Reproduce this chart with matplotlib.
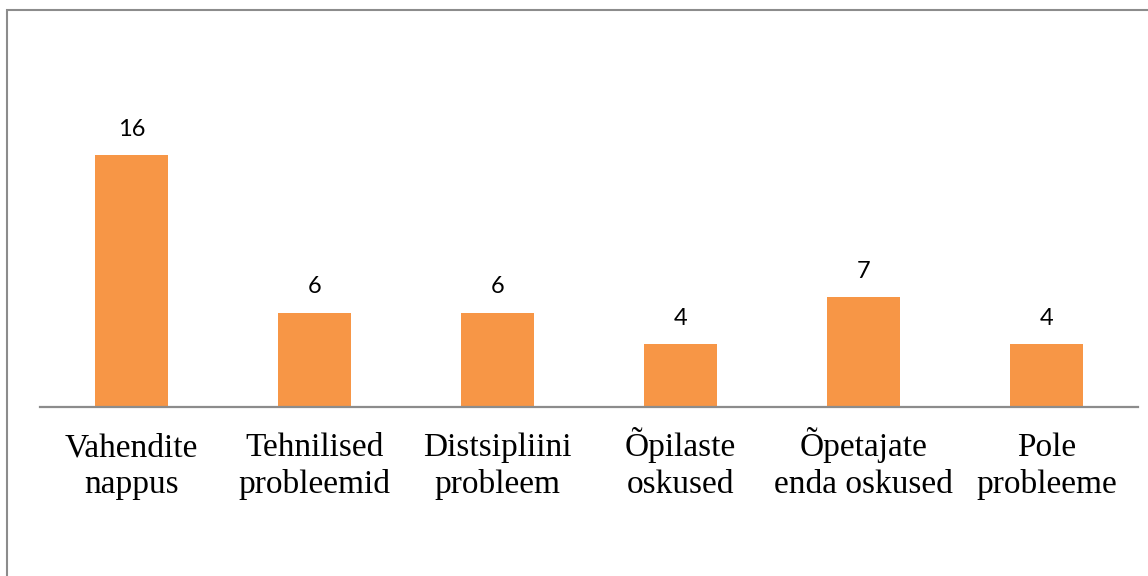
import matplotlib.pyplot as plt
import matplotlib.transforms as mtransforms
from matplotlib.patches import Rectangle

# Reported problems (counts per category)
categories = [
    "Vahendite\nnappus",
    "Tehnilised\nprobleemid",
    "Distsipliini\nprobleem",
    "Õpilaste\noskused",
    "Õpetajate\nenda oskused",
    "Pole\nprobleeme",
]
counts = [16, 6, 6, 4, 7, 4]

W, H = 1148, 576
fig = plt.figure(figsize=(W / 100, H / 100), dpi=100)
ax = fig.add_axes([40 / W, (H - 407) / H, 1098 / W, 283.5 / H])

x = list(range(len(categories)))
bars = ax.bar(x, counts, width=0.4, color="#F79646", zorder=2)

ax.set_xlim(-0.5, len(categories) - 0.5)
ax.set_ylim(0, 18)

# value labels above bars
for rect, v in zip(bars, counts):
    ax.annotate(str(v), (rect.get_x() + rect.get_width() / 2, v),
                xytext=(0, 13.7), textcoords="offset points",
                ha="center", va="baseline", fontsize=17, family="Lato",
                color="black")

# category labels under the axis, aligned on the last line's baseline
trans = mtransforms.blended_transform_factory(ax.transData, fig.transFigure)
for xi, lab in zip(x, categories):
    ax.text(xi, (H - 492.7) / H, lab, transform=trans, ha="center",
            va="baseline", multialignment="center",
            family="Liberation Serif", fontsize=24, linespacing=1.25)

ax.set_xticks([])
ax.set_yticks([])

for s in ("top", "right", "left"):
    ax.spines[s].set_visible(False)
ax.spines["bottom"].set_color("#8c8c8c")
ax.spines["bottom"].set_linewidth(1.6)

# outer chart frame
fig.patches.append(Rectangle((6.5 / W, -0.2), 1.5, 1.2 - 9.5 / H,
                             transform=fig.transFigure, fill=False,
                             edgecolor="#8c8c8c", linewidth=1.5))

fig.savefig("out.png", dpi=100)
plt.close(fig)
